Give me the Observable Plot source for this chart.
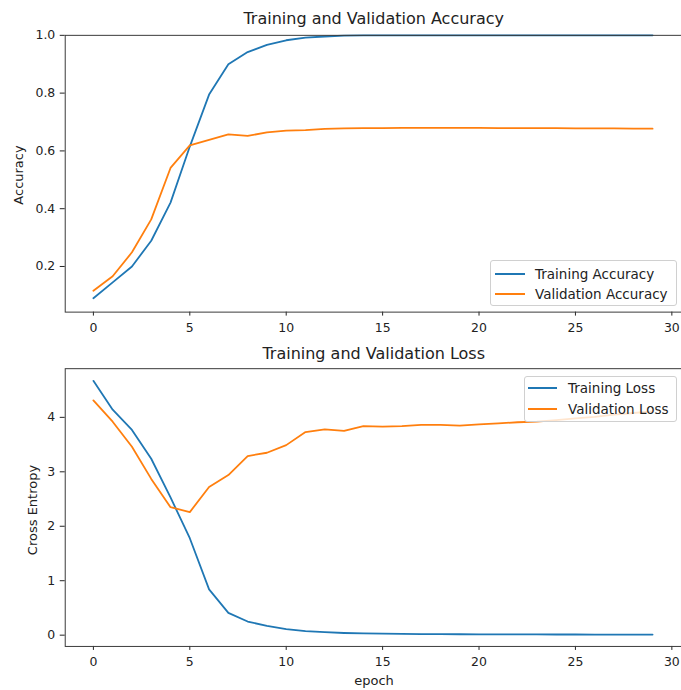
<!DOCTYPE html>
<html>
<head>
<meta charset="utf-8">
<script src="https://cdn.jsdelivr.net/npm/d3@7"></script>
<script src="https://cdn.jsdelivr.net/npm/@observablehq/plot@0.6"></script>
<style>
  html, body { margin: 0; padding: 0; background: white; overflow: hidden; }
  #wrap { position: relative; width: 681px; height: 690px; overflow: hidden; background: white;
          font-family: "DejaVu Sans", sans-serif; color: #222; }
  .abs { position: absolute; white-space: nowrap; }
  .title { font-size: 16px; line-height: 1.164; transform: translateX(-50%); }
  .ylab { font-size: 13px; line-height: 1.164; transform: translate(-50%, -50%) rotate(-90deg); }
  .xlab { font-size: 13px; line-height: 1.164; transform: translateX(-50%); }
  .legend { background: rgba(255,255,255,0.8); border: 1px solid #d0d0d0; border-radius: 3px; box-sizing: border-box; }
  .row { position: absolute; left: 0; height: 18px; display: flex; align-items: center; font-size: 13.5px; }
  .swatch { height: 2px; display: inline-block; }
</style>
</head>
<body>
<div id="wrap">
  <div id="top" class="abs" style="left:0;top:0"></div>
  <div id="bot" class="abs" style="left:0;top:340px"></div>

  <div class="abs title" style="left:373.7px;top:9.5px">Training and Validation Accuracy</div>
  <div class="abs title" style="left:373.7px;top:345px">Training and Validation Loss</div>
  <div class="abs ylab" style="left:19px;top:175px">Accuracy</div>
  <div class="abs ylab" style="left:32.5px;top:510px">Cross Entropy</div>
  <div class="abs xlab" style="left:374px;top:673px">epoch</div>

  <div id="leg1" class="abs legend" style="left:490px;top:260px;width:187px;height:46px"></div>
  <div id="leg2" class="abs legend" style="left:524px;top:376px;width:153px;height:46px"></div>
</div>
<script>
// ---- data ----
const epochs = [0,1,2,3,4,5,6,7,8,9,10,11,12,13,14,15,16,17,18,19,20,21,22,23,24,25,26,27,28,29];
const trainAcc = [0.090,0.145,0.200,0.289,0.421,0.615,0.795,0.900,0.942,0.967,0.983,0.992,0.996,0.999,1.000,1.000,1.000,1.000,1.000,1.000,1.000,1.000,1.000,1.000,1.000,1.000,1.000,1.000,1.000,1.000];
const valAcc = [0.116,0.166,0.249,0.363,0.541,0.619,0.638,0.657,0.652,0.664,0.670,0.672,0.676,0.678,0.679,0.679,0.680,0.680,0.680,0.680,0.680,0.679,0.679,0.679,0.679,0.678,0.678,0.678,0.677,0.677];
const trainLoss = [4.67,4.14,3.77,3.24,2.53,1.78,0.84,0.41,0.25,0.17,0.11,0.075,0.055,0.040,0.032,0.027,0.024,0.021,0.019,0.017,0.016,0.015,0.014,0.013,0.012,0.012,0.011,0.011,0.010,0.010];
const valLoss = [4.31,3.92,3.46,2.87,2.35,2.26,2.72,2.94,3.29,3.35,3.49,3.73,3.78,3.75,3.84,3.83,3.84,3.86,3.86,3.85,3.87,3.89,3.91,3.92,3.95,3.98,4.01,4.05,4.08,4.11];
const xTicks = [0,5,10,15,20,25,30];
const accTicks = [0.2,0.4,0.6,0.8,1.0];
const lossTicks = [0,1,2,3,4];
const accSeries = ["Training Accuracy","Validation Accuracy"];
const lossSeries = ["Training Loss","Validation Loss"];
const colors = ["#1f77b4","#ff7f0e"];

const accRows = [
  ...epochs.map((e,i)=>({epoch:e, value:trainAcc[i], series:accSeries[0]})),
  ...epochs.map((e,i)=>({epoch:e, value:valAcc[i], series:accSeries[1]}))
];
const lossRows = [
  ...epochs.map((e,i)=>({epoch:e, value:trainLoss[i], series:lossSeries[0]})),
  ...epochs.map((e,i)=>({epoch:e, value:valLoss[i], series:lossSeries[1]}))
];

const common = {
  width: 684,
  marginLeft: 65, marginRight: 0,
  style: {fontFamily: "DejaVu Sans, sans-serif", fontSize: "12.5px", color: "#222", background: "transparent", overflow: "visible"}
};

const topPlot = Plot.plot({
  ...common,
  height: 340, marginTop: 35, marginBottom: 27,
  x: {domain: [-1.461, 30.50], ticks: xTicks, tickSize: 4, tickPadding: 7, label: null},
  y: {domain: [0.042, 1.0], ticks: accTicks, tickFormat: d3.format(".1f"), tickSize: 5, tickPadding: 5, label: null},
  color: {domain: accSeries, range: colors},
  marks: [
    Plot.line(accRows, {x: "epoch", y: "value", z: "series", stroke: "series", strokeWidth: 1.8}),
    Plot.frame({stroke: "#3a3a3a", strokeWidth: 1})
  ]
});
document.getElementById("top").appendChild(topPlot);

const botPlot = Plot.plot({
  ...common,
  height: 350, marginTop: 28.3, marginBottom: 42.7,
  x: {domain: [-1.461, 30.50], ticks: xTicks, tickSize: 4, tickPadding: 7, label: null},
  y: {domain: [-0.207, 4.894], ticks: lossTicks, tickFormat: d3.format("d"), tickSize: 5, tickPadding: 5, label: null},
  color: {domain: lossSeries, range: colors},
  marks: [
    Plot.line(lossRows, {x: "epoch", y: "value", z: "series", stroke: "series", strokeWidth: 1.8}),
    Plot.frame({stroke: "#3a3a3a", strokeWidth: 1})
  ]
});
document.getElementById("bot").appendChild(botPlot);

function legend(el, names, rowTops, swLeft, swWidth, textLeft) {
  names.forEach((n, i) => {
    const row = document.createElement("div");
    row.className = "row";
    row.style.top = rowTops[i] + "px";
    row.style.left = swLeft + "px";
    const sw = document.createElement("span");
    sw.className = "swatch";
    sw.style.width = swWidth + "px";
    sw.style.background = colors[i];
    const t = document.createElement("span");
    t.textContent = n;
    t.style.marginLeft = (textLeft - swLeft - swWidth) + "px";
    row.appendChild(sw); row.appendChild(t);
    el.appendChild(row);
  });
}
// rows centered at y≈272.5/292.7 (legend top 260) and 386.5/408 (legend top 376)
legend(document.getElementById("leg1"), accSeries, [3.5, 23.7], 4, 30, 44);
legend(document.getElementById("leg2"), lossSeries, [1.5, 23], 3, 29, 43);
</script>
</body>
</html>
